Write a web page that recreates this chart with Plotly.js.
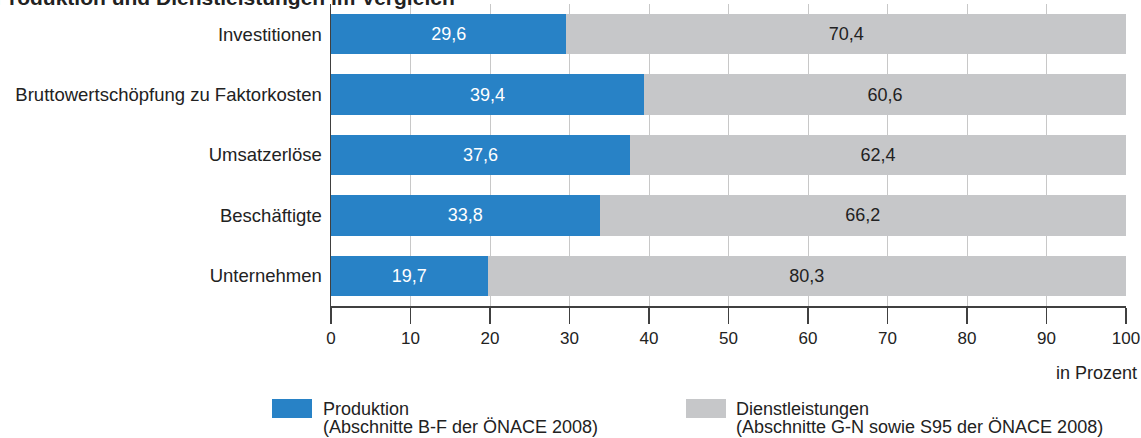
<!DOCTYPE html>
<html>
<head>
<meta charset="utf-8">
<script src="https://cdn.plot.ly/plotly-3.0.1.min.js"></script>
<style>
  html, body { margin: 0; padding: 0; background: #fff; }
  #chart { width: 1141px; height: 438px; }
</style>
</head>
<body>
<div id="chart"></div>
<script>
const categories = ["Investitionen", "Bruttowertschöpfung zu Faktorkosten", "Umsatzerlöse", "Beschäftigte", "Unternehmen"];
const produktion = [29.6, 39.4, 37.6, 33.8, 19.7];
const dienstleistungen = [70.4, 60.6, 62.4, 66.2, 80.3];
const xTicks = [0, 10, 20, 30, 40, 50, 60, 70, 80, 90, 100];
const titleText = "Produktion und Dienstleistungen im Vergleich";
const unitText = "in Prozent";
const legendNames = ["Produktion", "Dienstleistungen"];
const legendSubs = ["(Abschnitte B-F der ÖNACE 2008)", "(Abschnitte G-N sowie S95 der ÖNACE 2008)"];

const BLUE = "#2882c6";
const GREY = "#c6c7c9";
const FONT = "Liberation Sans, Arial, sans-serif";
const TXT = "#222222";

// plot area in pixels
const L = 331, R = 1126, T = 4, B = 306;
const px = x => (x - L) / (R - L);
const py = y => (B - y) / (B - T);

const traces = [
  {
    type: "bar", orientation: "h", y: categories, x: produktion, name: legendNames[0],
    marker: { color: BLUE },
    texttemplate: "%{x:.1f}", textposition: "inside", insidetextanchor: "middle",
    textfont: { family: FONT, size: 18, color: "#ffffff" },
    hoverinfo: "skip"
  },
  {
    type: "bar", orientation: "h", y: categories, x: dienstleistungen, name: legendNames[1],
    marker: { color: GREY },
    texttemplate: "%{x:.1f}", textposition: "inside", insidetextanchor: "middle",
    textfont: { family: FONT, size: 18, color: TXT },
    hoverinfo: "skip"
  }
];

const layout = {
  width: 1141, height: 438,
  margin: { l: L, r: 1141 - R, t: T, b: 438 - B, pad: 0 },
  paper_bgcolor: "#ffffff", plot_bgcolor: "#ffffff",
  barmode: "stack", bargap: 0.33,
  separators: ",.",
  showlegend: false,
  font: { family: FONT, size: 18, color: TXT },
  xaxis: {
    range: [0, 100], tickvals: xTicks, ticktext: xTicks.map(String),
    showgrid: true, gridcolor: "#c8c8c8", gridwidth: 1,
    zeroline: false,
    showline: true, linecolor: "#404040", linewidth: 1.5,
    ticks: "outside", ticklen: 16, tickcolor: "#404040", tickwidth: 1.2,
    tickfont: { family: FONT, size: 17, color: TXT },
    fixedrange: true
  },
  yaxis: {
    type: "category", autorange: "reversed",
    showgrid: false, zeroline: false,
    showline: true, linecolor: "#404040", linewidth: 1.5,
    ticks: "", ticklabelstandoff: 4,
    tickfont: { family: FONT, size: 18.5, color: TXT },
    fixedrange: true
  },
  shapes: [
    { type: "rect", xref: "paper", yref: "paper", x0: px(272), x1: px(312), y0: py(399), y1: py(418), fillcolor: BLUE, line: { width: 0 } },
    { type: "rect", xref: "paper", yref: "paper", x0: px(686), x1: px(726), y0: py(399), y1: py(418), fillcolor: GREY, line: { width: 0 } }
  ],
  annotations: [
    { xref: "paper", yref: "paper", x: px(457), y: 1, xanchor: "right", yanchor: "bottom", yshift: -7,
      text: "<b>" + titleText + "</b>", showarrow: false, font: { family: FONT, size: 21, color: TXT } },
    { xref: "paper", yref: "paper", x: px(1139), y: py(373), xanchor: "right", yanchor: "middle",
      text: unitText, showarrow: false, font: { family: FONT, size: 18, color: TXT } },
    { xref: "paper", yref: "paper", x: px(321), y: py(409), xanchor: "left", yanchor: "middle",
      text: legendNames[0], showarrow: false, font: { family: FONT, size: 18, color: TXT } },
    { xref: "paper", yref: "paper", x: px(321), y: py(427), xanchor: "left", yanchor: "middle",
      text: legendSubs[0], showarrow: false, font: { family: FONT, size: 18, color: TXT } },
    { xref: "paper", yref: "paper", x: px(734), y: py(409), xanchor: "left", yanchor: "middle",
      text: legendNames[1], showarrow: false, font: { family: FONT, size: 18, color: TXT } },
    { xref: "paper", yref: "paper", x: px(734), y: py(427), xanchor: "left", yanchor: "middle",
      text: legendSubs[1], showarrow: false, font: { family: FONT, size: 18, color: TXT } }
  ]
};

Plotly.newPlot("chart", traces, layout, { displayModeBar: false, staticPlot: true });
</script>
</body>
</html>
